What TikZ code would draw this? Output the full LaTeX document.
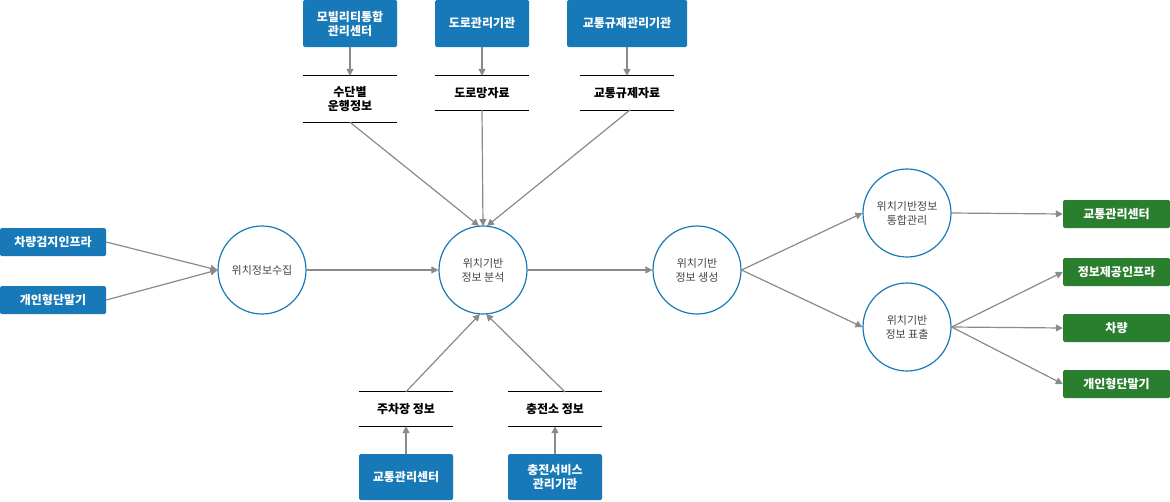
\documentclass[tikz,border=0pt]{standalone}
\usepackage{fontspec}
\setmainfont{Noto Sans CJK KR}
\usetikzlibrary{arrows.meta}
\definecolor{bblue}{HTML}{1779B7}
\definecolor{bgreen}{HTML}{2A7F2E}
\definecolor{agray}{HTML}{8A8A8A}
\definecolor{tgray}{HTML}{444444}
\begin{document}
\begin{tikzpicture}[x=1pt,y=-1pt,
 bbox/.style={fill=bblue,text=white,font=\fontsize{12}{14}\selectfont\bfseries,align=center,inner sep=0pt,rounded corners=1.5pt},
 gbox/.style={fill=bgreen,text=white,font=\fontsize{12}{14}\selectfont\bfseries,align=center,inner sep=0pt,rounded corners=1.5pt,minimum width=107pt,minimum height=28pt},
 store/.style={font=\fontsize{12}{14}\selectfont\bfseries,align=center,inner sep=0pt,text=black},
 proc/.style={circle,draw=bblue,line width=1.2pt,minimum size=88pt,inner sep=0pt,align=center,font=\fontsize{11}{14}\selectfont,text=tgray},
 arr/.style={draw=agray,line width=1.2pt,-{Triangle[length=7pt,width=7pt]}},
 sline/.style={draw=black,line width=1pt}]
\useasboundingbox (0,0) rectangle (1170,501);
% top boxes
\node[bbox,minimum width=94pt,minimum height=47pt] (b1) at (350,23.5) {모빌리티통합\\관리센터};
\node[bbox,minimum width=94pt,minimum height=47pt] (b2) at (482,23.5) {도로관리기관};
\node[bbox,minimum width=120pt,minimum height=47pt] (b3) at (627,23.5) {교통규제관리기관};
% stores top
\node[store,minimum width=94pt,minimum height=46pt] (s1) at (350,99) {수단별\\운행정보};
\draw[sline] (s1.north west)--(s1.north east) (s1.south west)--(s1.south east);
\node[store,minimum width=94pt,minimum height=34pt] (s2) at (482,93) {도로망자료};
\draw[sline] (s2.north west)--(s2.north east) (s2.south west)--(s2.south east);
\node[store,minimum width=94pt,minimum height=34pt] (s3) at (627,93) {교통규제자료};
\draw[sline] (s3.north west)--(s3.north east) (s3.south west)--(s3.south east);
% left boxes
\node[bbox,minimum width=106pt,minimum height=28pt] (l1) at (53,242) {차량검지인프라};
\node[bbox,minimum width=106pt,minimum height=28pt] (l2) at (53,300) {개인형단말기};
% circles
\node[proc] (c1) at (262,270) {위치정보수집};
\node[proc] (c2) at (483,270) {위치기반\\정보 분석};
\node[proc] (c3) at (697,270) {위치기반\\정보 생성};
\node[proc] (c4) at (907,213) {위치기반정보\\통합관리};
\node[proc] (c5) at (907,327) {위치기반\\정보 표출};
% bottom stores
\node[store,minimum width=94pt,minimum height=34pt] (s4) at (406,409) {주차장 정보};
\draw[sline] (s4.north west)--(s4.north east) (s4.south west)--(s4.south east);
\node[store,minimum width=94pt,minimum height=34pt] (s5) at (555,409) {충전소 정보};
\draw[sline] (s5.north west)--(s5.north east) (s5.south west)--(s5.south east);
\node[bbox,minimum width=94pt,minimum height=46pt] (b4) at (406,477) {교통관리센터};
\node[bbox,minimum width=94pt,minimum height=46pt] (b5) at (555,477) {충전서비스\\관리기관};
% green
\node[gbox] (g1) at (1116.5,214) {교통관리센터};
\node[gbox] (g2) at (1116.5,272) {정보제공인프라};
\node[gbox] (g3) at (1116.5,328) {차량};
\node[gbox] (g4) at (1116.5,384) {개인형단말기};
% arrows
\draw[arr] (b1)--(s1); \draw[arr] (b2)--(s2); \draw[arr] (b3)--(s3);
\draw[arr] (s1.south)--(479,226);
\draw[arr] (s2.south)--(483,226);
\draw[arr] (630,110)--(487,226);
\draw[arr] (b4)--(s4); \draw[arr] (b5)--(s5);
\draw[arr] (s4.north)--(480,314);
\draw[arr] (565,392)--(486,314);
\draw[arr] (l1.east)--(c1.west);
\draw[arr] (l2.east)--(c1.west);
\draw[arr] (c1)--(c2); \draw[arr] (c2)--(c3);
\draw[arr] (c3.east)--(c4.west);
\draw[arr] (c3.east)--(c5.west);
\draw[arr] (c4.east)--(g1.west);
\draw[arr] (c5.east)--(g2.west);
\draw[arr] (c5.east)--(g3.west);
\draw[arr] (c5.east)--(g4.west);
\end{tikzpicture}
\end{document}
